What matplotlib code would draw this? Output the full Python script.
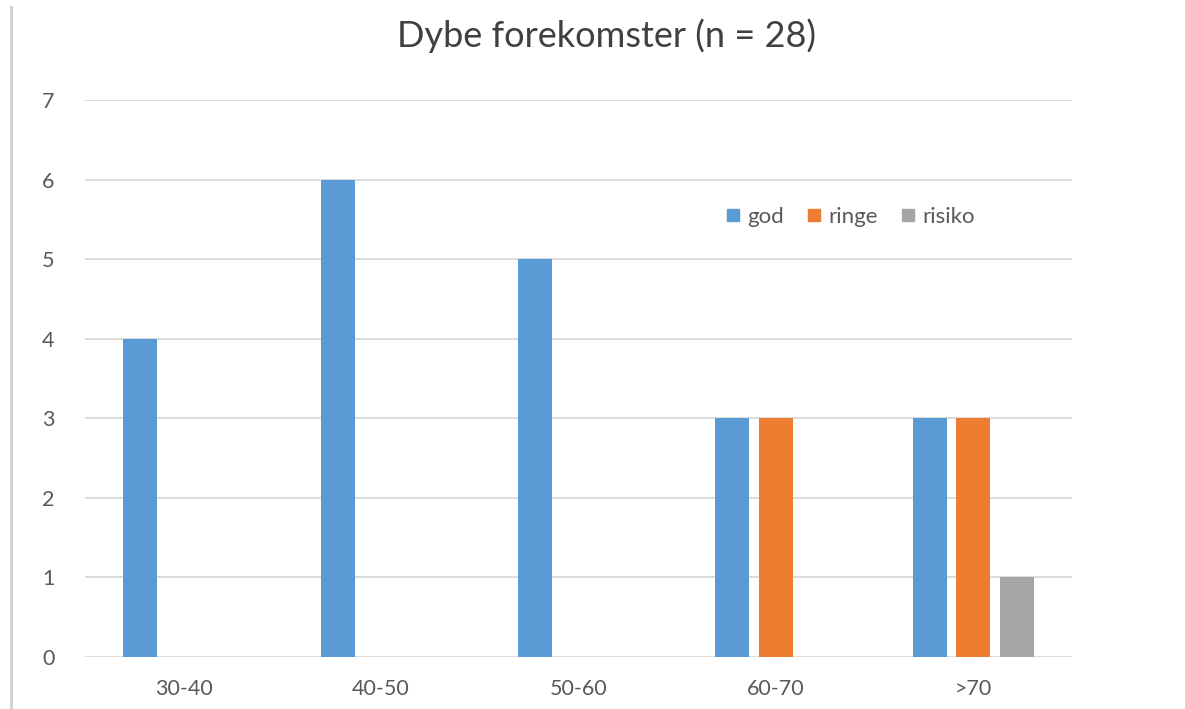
import numpy as np
import matplotlib.pyplot as plt
from matplotlib.lines import Line2D

categories = ['30-40', '40-50', '50-60', '60-70', '>70']
god = [4, 6, 5, 3, 3]
ringe = [0, 0, 0, 3, 3]
risiko = [0, 0, 0, 0, 1]

series = [('god', god, '#5b9bd5'),
          ('ringe', ringe, '#ed7d31'),
          ('risiko', risiko, '#a5a5a5')]

plt.rcParams['font.family'] = ['Lato', 'DejaVu Sans']

fig = plt.figure(figsize=(11.85, 7.09), dpi=100)
ax = fig.add_axes([0.0717, 0.0733, 0.8329, 0.7857])

x = np.arange(len(categories))
width = 0.172
step = 0.22
for i, (name, vals, col) in enumerate(series):
    ax.bar(x + (i - 1) * step, vals, width, color=col, label=name, zorder=3)

ax.set_xlim(-0.5, len(categories) - 0.5)
ax.set_ylim(0, 7)
ax.set_yticks(range(0, 8))
ax.set_xticks(x)
ax.set_xticklabels(categories)
ax.yaxis.grid(True, color='#d9d9d9', linewidth=1.3, zorder=0)
ax.tick_params(axis='both', length=0, labelsize=15.5, colors='#595959')
ax.tick_params(axis='y', pad=22)
ax.tick_params(axis='x', pad=16)
for s in ax.spines.values():
    s.set_visible(False)

handles = [Line2D([], [], marker='s', linestyle='none', markersize=9,
                  markerfacecolor=c, markeredgecolor=c) for _, _, c in series]
leg = ax.legend(handles, [n for n, _, _ in series], ncol=3, frameon=False,
                loc='center', bbox_to_anchor=(0.772, 0.79), fontsize=16,
                handletextpad=0.05, columnspacing=0.75, handlelength=1.2)
for t in leg.get_texts():
    t.set_color('#595959')

fig.text(0.512, 0.95, 'Dybe forekomster (n = 28)', ha='center', va='center',
         fontsize=26, color='#404040')

# faint frame of the original slide
fig.add_artist(Line2D([0.009, 0.009], [0, 0.99], transform=fig.transFigure,
                      color='#d0d0d0', linewidth=2))

fig.savefig('out.png', dpi=100)
